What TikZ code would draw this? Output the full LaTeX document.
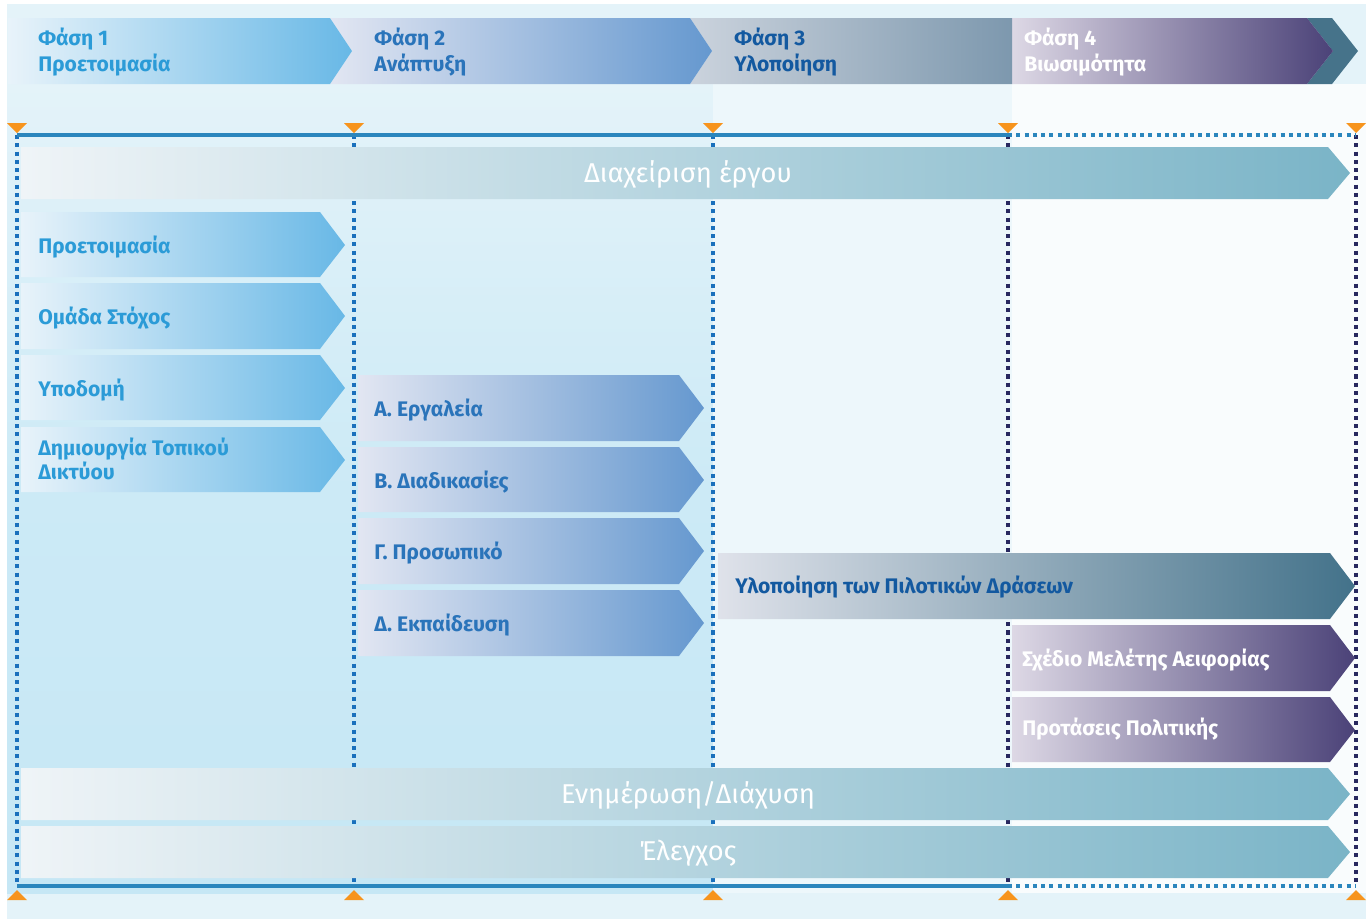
\documentclass[tikz,border=0pt]{standalone}
\usepackage{fontspec}
\setmainfont{Fira Sans}
\definecolor{panelbg}{RGB}{228, 243, 249}
\definecolor{colabtop}{RGB}{228, 243, 249}
\definecolor{colabmid}{RGB}{204, 234, 246}
\definecolor{colabbot}{RGB}{198, 231, 245}
\definecolor{colthree}{RGB}{237, 247, 251}
\definecolor{colfour}{RGB}{249, 252, 253}
\definecolor{prepA}{RGB}{232, 243, 250}
\definecolor{prepB}{RGB}{104, 184, 230}
\definecolor{devA}{RGB}{226, 230, 242}
\definecolor{devB}{RGB}{101, 152, 207}
\definecolor{implA}{RGB}{203, 211, 221}
\definecolor{implB}{RGB}{125, 152, 174}
\definecolor{pilotA}{RGB}{223, 226, 234}
\definecolor{pilotB}{RGB}{67, 114, 138}
\definecolor{sustA}{RGB}{221, 216, 229}
\definecolor{sustB}{RGB}{75, 66, 120}
\definecolor{tealtip}{RGB}{70, 115, 138}
\definecolor{barA}{RGB}{239, 244, 247}
\definecolor{barB}{RGB}{122, 180, 199}
\definecolor{preptxt}{RGB}{43, 155, 215}
\definecolor{devtxt}{RGB}{42, 116, 186}
\definecolor{impltxt}{RGB}{19, 89, 160}
\definecolor{lineblue}{RGB}{43, 134, 189}
\definecolor{dotblue}{RGB}{26, 112, 188}
\definecolor{dotnavy}{RGB}{40, 40, 95}
\definecolor{tickorange}{RGB}{247, 148, 29}
\usepackage{tikz}
\usetikzlibrary{calc}

\begin{document}
\begin{tikzpicture}[x=0.02cm, y=-0.02cm,
  hdrtext/.style={font=\bfseries\fontsize{12}{15}\selectfont, anchor=west, align=left, inner sep=0pt},
  rowtext/.style={font=\bfseries\fontsize{12}{13.6}\selectfont, anchor=base west, align=left, inner sep=0pt},
  bartext/.style={font=\fontsize{15.5}{18}\selectfont, text=white, anchor=base, inner sep=0pt},
  prepshade/.style={left color=prepA, right color=prepB},
  devshade/.style={left color=devA, right color=devB},
  implshade/.style={left color=implA, right color=implB},
  pilotshade/.style={left color=pilotA, right color=pilotB},
  sustshade/.style={left color=sustA, right color=sustB},
  barshade/.style={left color=barA, right color=barB},
  tline/.style={draw=lineblue, line width=2.2pt},
  hdots/.style={draw=lineblue, line width=2.3pt, dash pattern=on 2.3pt off 2.4pt},
  vdots/.style={line width=2.3pt, dash pattern=on 2.3pt off 2.4pt},
  tick/.style={fill=tickorange}]
  \useasboundingbox (0,0) rectangle (1370,921);

  % background
  \fill[white] (0,0) rectangle (1370,921);
  \fill[panelbg] (7,4) rectangle (1366,919);
  \shade[top color=colabtop, bottom color=colabbot, middle color=colabmid] (7,84) rectangle (713,893);
  \fill[colthree] (713,84) rectangle (1012,893);
  \fill[colfour] (1012,84) rectangle (1366,893);

  % phase headers
  \fill[tealtip] (1307,18) -- (1332,18) -- (1358,51) -- (1332,84) -- (1307,84) -- (1333,51) -- cycle;
  \shade[sustshade] (1012,18) -- (1307,18) -- (1333,51) -- (1307,84) -- (1012,84) -- cycle;
  \shade[implshade] (690,18) -- (1012,18) -- (1012,84) -- (690,84) -- (712,51) -- cycle;
  \shade[devshade] (330,18) -- (690,18) -- (712,51) -- (690,84) -- (330,84) -- (352,51) -- cycle;
  \shade[prepshade] (8,18) -- (330,18) -- (352,51) -- (330,84) -- (8,84) -- cycle;
  \node[hdrtext, text=preptxt] (ph1) at (38,52) {Φάση 1\\Προετοιμασία};
  \node[hdrtext, text=devtxt] (ph2) at (374,52) {Φάση 2\\Ανάπτυξη};
  \node[hdrtext, text=impltxt] (ph3) at (734,52) {Φάση 3\\Υλοποίηση};
  \node[hdrtext, text=white] (ph4) at (1024,52) {Φάση 4\\Βιωσιμότητα};

  % timeline marks
  \coordinate (t1) at (17,135);   \coordinate (b1) at (17,886);
  \coordinate (t2) at (354,135);  \coordinate (b2) at (354,886);
  \coordinate (t3) at (713,135);  \coordinate (b3) at (713,886);
  \coordinate (t4) at (1008,135); \coordinate (b4) at (1008,886);
  \coordinate (t5) at (1356,135); \coordinate (b5) at (1356,886);
  \draw[vdots, dotblue] (t1) -- (b1);
  \draw[vdots, dotblue] (t2) -- (b2);
  \draw[vdots, dotblue] (t3) -- (b3);
  \draw[vdots, dotnavy] (t4) -- (b4);
  \draw[vdots, dotnavy] (t5) -- (b5);
  \draw[tline] (t1) -- (t4);
  \draw[hdots] (t4) -- (t5);
  \draw[tline] (b1) -- (b4);
  \draw[hdots] (b4) -- (b5);
  \foreach \i in {1,...,5} {
    \fill[tick] ($(t\i)+(-10,-12)$) -- ($(t\i)+(10,-12)$) -- ($(t\i)+(0,-2)$) -- cycle;
    \fill[tick] ($(b\i)+(-10,14)$) -- ($(b\i)+(10,14)$) -- ($(b\i)+(0,4)$) -- cycle;
  }

  % project management
  \shade[barshade] (21,147) -- (1328,147) -- (1350,173) -- (1328,199) -- (21,199) -- cycle;
  \node[bartext] (mgmt) at (688,182) {Διαχείριση έργου};

  % phase 1 rows
  \shade[prepshade] (21,212) -- (320,212) -- (345,245) -- (320,277) -- (21,277) -- cycle;
  \shade[prepshade] (21,283) -- (320,283) -- (345,316) -- (320,349) -- (21,349) -- cycle;
  \shade[prepshade] (21,355) -- (320,355) -- (345,388) -- (320,420) -- (21,420) -- cycle;
  \shade[prepshade] (21,427) -- (320,427) -- (345,460) -- (320,492) -- (21,492) -- cycle;
  \node[rowtext, text=preptxt] (prep) at (38,253) {Προετοιμασία};
  \node[rowtext, text=preptxt] (target) at (38,324) {Ομάδα Στόχος};
  \node[rowtext, text=preptxt] (infra) at (38,396) {Υποδομή};
  \node[hdrtext, font=\bfseries\fontsize{12}{13.6}\selectfont, text=preptxt] (network) at (38,459) {Δημιουργία Τοπικού\\Δικτύου};

  % phase 2 rows
  \shade[devshade] (358,375) -- (679,375) -- (704,408) -- (679,441) -- (358,441) -- cycle;
  \shade[devshade] (358,447) -- (679,447) -- (704,480) -- (679,512) -- (358,512) -- cycle;
  \shade[devshade] (358,518) -- (679,518) -- (704,551) -- (679,584) -- (358,584) -- cycle;
  \shade[devshade] (358,590) -- (679,590) -- (704,623) -- (679,656) -- (358,656) -- cycle;
  \node[rowtext, text=devtxt] (tools) at (374,416) {Α. Εργαλεία};
  \node[rowtext, text=devtxt] (procs) at (374,488) {Β. Διαδικασίες};
  \node[rowtext, text=devtxt] (staff) at (374,559) {Γ. Προσωπικό};
  \node[rowtext, text=devtxt] (train) at (374,631) {Δ. Εκπαίδευση};

  % phase 3 and 4 rows
  \shade[pilotshade] (718,553) -- (1330,553) -- (1355,586) -- (1330,619) -- (718,619) -- cycle;
  \node[rowtext, text=impltxt] (pilot) at (735,593) {Υλοποίηση των Πιλοτικών Δράσεων};
  \shade[sustshade] (1012,625) -- (1330,625) -- (1355,658) -- (1330,691) -- (1012,691) -- cycle;
  \shade[sustshade] (1012,697) -- (1330,697) -- (1355,730) -- (1330,762) -- (1012,762) -- cycle;
  \node[rowtext, text=white] (plan) at (1022,666) {Σχέδιο Μελέτης Αειφορίας};
  \node[rowtext, text=white] (policy) at (1022,735) {Προτάσεις Πολιτικής};

  % dissemination and control
  \shade[barshade] (21,768) -- (1328,768) -- (1350,794) -- (1328,820) -- (21,820) -- cycle;
  \node[bartext] (dissem) at (688,803) {Ενημέρωση/Διάχυση};
  \shade[barshade] (21,826) -- (1328,826) -- (1350,852) -- (1328,878) -- (21,878) -- cycle;
  \node[bartext] (control) at (688,860) {Έλεγχος};
\end{tikzpicture}
\end{document}
